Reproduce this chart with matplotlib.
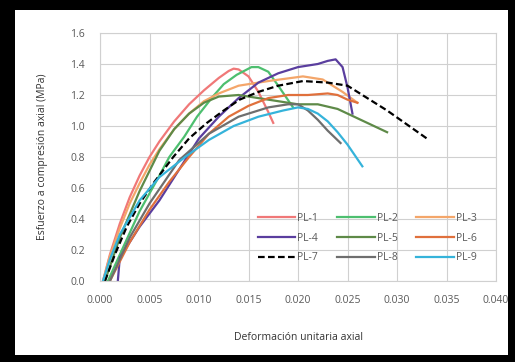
import matplotlib
matplotlib.use("Agg")
import matplotlib.pyplot as plt
from matplotlib.patches import Rectangle

plt.rcParams['font.family'] = ['Open Sans', 'DejaVu Sans']

names = ["PL-1", "PL-2", "PL-3", "PL-4", "PL-5", "PL-6", "PL-7", "PL-8", "PL-9"]

pl1_x = [0.0003, 0.001, 0.002, 0.003, 0.004, 0.005, 0.006, 0.0075, 0.009, 0.0105, 0.012, 0.013, 0.0135, 0.014, 0.015, 0.016, 0.017, 0.0175]
pl1_y = [0.0, 0.17, 0.37, 0.54, 0.68, 0.80, 0.90, 1.03, 1.14, 1.23, 1.31, 1.355, 1.37, 1.365, 1.32, 1.22, 1.09, 1.02]

pl2_x = [0.0008, 0.002, 0.004, 0.006, 0.007, 0.0085, 0.0098, 0.0114, 0.0125, 0.0138, 0.0153, 0.016, 0.017, 0.018, 0.0195]
pl2_y = [0.0, 0.17, 0.45, 0.68, 0.80, 0.93, 1.06, 1.19, 1.27, 1.33, 1.38, 1.38, 1.35, 1.26, 1.12]

pl3_x = [0.0003, 0.001, 0.002, 0.003, 0.004, 0.005, 0.006, 0.0075, 0.009, 0.0105, 0.012, 0.014, 0.017, 0.0205, 0.0225, 0.0245, 0.026]
pl3_y = [0.0, 0.16, 0.34, 0.50, 0.63, 0.75, 0.85, 0.98, 1.08, 1.16, 1.21, 1.26, 1.29, 1.32, 1.30, 1.22, 1.15]

pl4_x = [0.0018, 0.002, 0.0025, 0.004, 0.006, 0.008, 0.010, 0.012, 0.014, 0.016, 0.018, 0.020, 0.022, 0.023, 0.0238, 0.0245, 0.025, 0.0255]
pl4_y = [0.0, 0.15, 0.20, 0.35, 0.52, 0.72, 0.92, 1.06, 1.18, 1.28, 1.34, 1.38, 1.40, 1.42, 1.43, 1.38, 1.25, 1.08]

pl5_x = [0.0005, 0.002, 0.004, 0.006, 0.0075, 0.009, 0.0105, 0.012, 0.014, 0.016, 0.018, 0.020, 0.022, 0.024, 0.026, 0.029]
pl5_y = [0.0, 0.28, 0.58, 0.84, 0.98, 1.08, 1.15, 1.19, 1.20, 1.18, 1.16, 1.14, 1.14, 1.11, 1.05, 0.96]

pl6_x = [0.001, 0.003, 0.005, 0.007, 0.009, 0.011, 0.013, 0.015, 0.017, 0.019, 0.021, 0.023, 0.024, 0.025, 0.026]
pl6_y = [0.0, 0.25, 0.46, 0.64, 0.80, 0.95, 1.06, 1.13, 1.18, 1.20, 1.20, 1.21, 1.20, 1.17, 1.15]

pl7_x = [0.0005, 0.0015, 0.0027, 0.004, 0.0055, 0.0074, 0.009, 0.0108, 0.0125, 0.0141, 0.016, 0.018, 0.0205, 0.023, 0.025, 0.027, 0.029, 0.031, 0.033]
pl7_y = [0.0, 0.17, 0.35, 0.50, 0.64, 0.80, 0.92, 1.02, 1.10, 1.17, 1.22, 1.26, 1.29, 1.28, 1.26, 1.18, 1.10, 1.01, 0.92]

pl8_x = [0.001, 0.003, 0.005, 0.008, 0.011, 0.014, 0.017, 0.019, 0.020, 0.021, 0.022, 0.023, 0.0243]
pl8_y = [0.0, 0.28, 0.50, 0.78, 0.95, 1.06, 1.12, 1.14, 1.14, 1.10, 1.04, 0.97, 0.89]

pl9_x = [0.0003, 0.001, 0.002, 0.004, 0.006, 0.0086, 0.011, 0.0135, 0.016, 0.0185, 0.020, 0.021, 0.022, 0.023, 0.024, 0.025, 0.0265]
pl9_y = [0.0, 0.14, 0.30, 0.52, 0.67, 0.80, 0.91, 1.00, 1.06, 1.10, 1.12, 1.11, 1.08, 1.03, 0.96, 0.88, 0.74]

xs = [pl1_x, pl2_x, pl3_x, pl4_x, pl5_x, pl6_x, pl7_x, pl8_x, pl9_x]
ys = [pl1_y, pl2_y, pl3_y, pl4_y, pl5_y, pl6_y, pl7_y, pl8_y, pl9_y]
colors = ['#F07878', '#4DBF6F', '#F4A66A', '#5A3E9E', '#5E8A48', '#E0703C', '#000000', '#6E6E6E', '#35B3DA']
styles = ['-', '-', '-', '-', '-', '-', '--', '-', '-']

xticks = [0.000, 0.005, 0.010, 0.015, 0.020, 0.025, 0.030, 0.035, 0.040]
yticks = [0.0, 0.2, 0.4, 0.6, 0.8, 1.0, 1.2, 1.4, 1.6]

fig = plt.figure(figsize=(5.15, 3.62), dpi=100, facecolor='black')
bg = Rectangle((15/515, 7/362), 493/515, 345/362, transform=fig.transFigure,
               facecolor='white', edgecolor='none', zorder=-10)
fig.add_artist(bg)
ax = fig.add_axes([100/515, 1 - 281/362, 396/515, 248/362])
ax.set_zorder(5)

handles = []
for x, y, c, s, n in zip(xs, ys, colors, styles, names):
    if s == '--':
        h, = ax.plot(x, y, color=c, linewidth=1.6, label=n, dashes=(3, 1.5))
    else:
        h, = ax.plot(x, y, color=c, linewidth=1.6, label=n)
    handles.append(h)

ax.set_xlim(0, 0.040)
ax.set_ylim(0, 1.6)
ax.set_xticks(xticks)
ax.set_yticks(yticks)
ax.set_xticklabels([f"{t:.3f}" for t in xticks])
ax.set_yticklabels([f"{t:.1f}" for t in yticks])
ax.grid(True, color='#D0D0D0', linewidth=0.8)
ax.set_axisbelow(True)
for sp in ax.spines.values():
    sp.set_color('#D0D0D0')
    sp.set_linewidth(0.8)
ax.tick_params(axis='x', length=0, labelsize=7.5, colors='#595959', pad=10)
ax.tick_params(axis='y', length=0, labelsize=7.5, colors='#595959', pad=11)
ax.set_xlabel("Deformación unitaria axial", fontsize=7.5, color='#333333', labelpad=19)
ax.set_ylabel("Esfuerzo a compresión axial (MPa)", fontsize=7.5, color='#333333', labelpad=16)

order = [0, 3, 6, 1, 4, 7, 2, 5, 8]
leg = ax.legend([handles[i] for i in order], [names[i] for i in order], ncol=3,
                loc='center', bbox_to_anchor=(0.675, 0.173), frameon=False,
                fontsize=7.5, handlelength=3.6, handletextpad=0.2, columnspacing=1.8,
                labelspacing=0.85)
for t in leg.get_texts():
    t.set_color('#595959')

fig.savefig("out.png", dpi=100, facecolor='black')
